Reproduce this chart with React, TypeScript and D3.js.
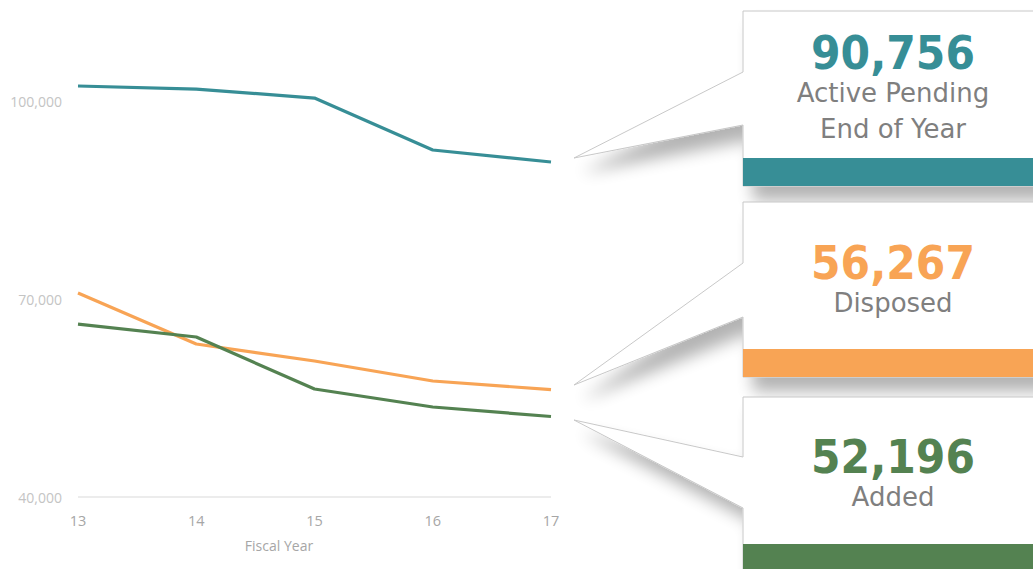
import React from "react";
import * as d3 from "d3";

const years = [13, 14, 15, 16, 17];
const activePending = [102270, 101800, 100450, 92580, 90756];
const disposed = [70900, 63180, 60600, 57580, 56267];
const added = [66200, 64240, 56360, 53640, 52196];
const yTicks = [40000, 70000, 100000];

const seriesList = [
  { name: "Active Pending", values: activePending, color: "#378E96" },
  { name: "Disposed", values: disposed, color: "#F8A455" },
  { name: "Added", values: added, color: "#548251" },
];

const callouts = [
  { value: "90,756", lines: ["Active Pending", "End of Year"], color: "#378E96", top: 11, bandTop: 158, bandBottom: 186, tip: [574, 158], base: [72, 125], numY: 69, lineY: [102, 138] },
  { value: "56,267", lines: ["Disposed"], color: "#F8A455", top: 202, bandTop: 349, bandBottom: 377, tip: [574, 385], base: [263, 317], numY: 279, lineY: [312] },
  { value: "52,196", lines: ["Added"], color: "#548251", top: 397, bandTop: 544, bandBottom: 580, tip: [574, 420], base: [457, 508], numY: 473, lineY: [506] },
];

export default function App() {
  const W = 1033, H = 569;
  const x = d3.scaleLinear().domain([13, 17]).range([78, 551]);
  const y = d3.scaleLinear().domain([40000, 110000]).range([497, 35]);
  const line = d3.line<number>().x((_, i) => x(years[i])).y((v) => y(v));
  const fmt = d3.format(",");
  const boxX = 743, boxR = 1045;

  return (
    <div style={{ position: "fixed", left: 0, top: 0 }}>
      <svg width={W} height={H} style={{ display: "block", background: "#fff" }}>
        <defs>
          <filter id="shadow" x="-30%" y="-30%" width="160%" height="180%">
            <feGaussianBlur in="SourceAlpha" stdDeviation="8" />
            <feOffset dx="10" dy="14" result="b" />
            <feComponentTransfer>
              <feFuncA type="linear" slope="0.3" />
            </feComponentTransfer>
            <feMerge>
              <feMergeNode />
              <feMergeNode in="SourceGraphic" />
            </feMerge>
          </filter>
        </defs>

        <line x1={x(13)} x2={x(17)} y1={y(40000)} y2={y(40000)} stroke="#d9d9d9" strokeWidth={1} />

        {yTicks.map((t) => (
          <text key={t} x={62} y={y(t)} textAnchor="end" dominantBaseline="central" fontFamily="'Open Sans', sans-serif" fontSize={14} fill="#c4c4c4">
            {fmt(t)}
          </text>
        ))}
        {years.map((yr) => (
          <text key={yr} x={x(yr)} y={520} textAnchor="middle" dominantBaseline="central" fontFamily="'Open Sans', sans-serif" fontSize={14.5} fill="#a6a6a6">
            {yr}
          </text>
        ))}
        <text x={279} y={545} textAnchor="middle" dominantBaseline="central" fontFamily="'Open Sans', sans-serif" fontSize={14} fill="#a6a6a6">
          Fiscal Year
        </text>

        {seriesList.map((s) => (
          <path key={s.name} d={line(s.values) || ""} fill="none" stroke={s.color} strokeWidth={3.2} strokeLinejoin="round" />
        ))}

        {callouts.map((c, i) => {
          const bottom = c.bandBottom;
          const d = `M${boxX},${c.top} L${boxR},${c.top} L${boxR},${bottom} L${boxX},${bottom} L${boxX},${c.base[1]} L${c.tip[0]},${c.tip[1]} L${boxX},${c.base[0]} Z`;
          return (
            <g key={i}>
              <path d={d} fill="#fff" stroke="#c8c8c8" strokeWidth={1} filter="url(#shadow)" />
              <rect x={boxX} y={c.bandTop} width={boxR - boxX} height={c.bandBottom - c.bandTop} fill={c.color} />
              <text x={893} y={c.numY} textAnchor="middle" fontFamily="'DejaVu Sans', sans-serif" fontWeight="bold" fontSize={47} fill={c.color} textLength={164} lengthAdjust="spacingAndGlyphs">
                {c.value}
              </text>
              {c.lines.map((l, j) => (
                <text key={j} x={893} y={c.lineY[j]} textAnchor="middle" fontFamily="'DejaVu Sans', sans-serif" fontSize={26} fill="#7f7f7f">
                  {l}
                </text>
              ))}
            </g>
          );
        })}
      </svg>
    </div>
  );
}
